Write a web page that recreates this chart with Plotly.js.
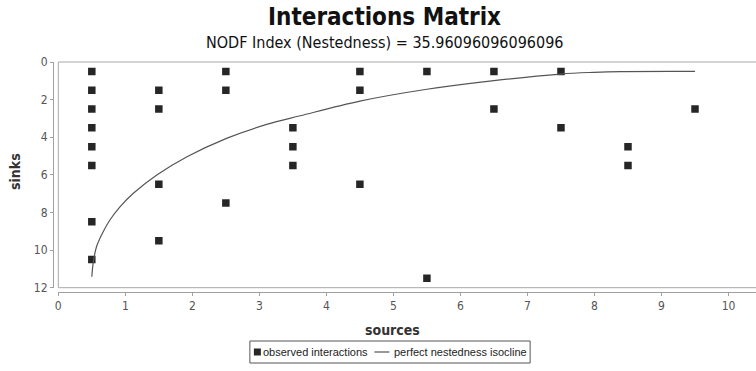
<!DOCTYPE html>
<html>
<head>
<meta charset="utf-8">
<script src="https://cdn.plot.ly/plotly-3.0.1.min.js"></script>
<style>html,body{margin:0;padding:0;background:#fff;overflow:hidden;}</style>
</head>
<body>
<div id="chart" style="width:756px;height:371px;"></div>
<script>
// Observed interactions (source column, sink row)
const obsSources = [0.5,0.5,0.5,0.5,0.5,0.5,0.5,0.5, 1.5,1.5,1.5,1.5, 2.5,2.5,2.5, 3.5,3.5,3.5, 4.5,4.5,4.5, 5.5,5.5, 6.5,6.5, 7.5,7.5, 8.5,8.5, 9.5];
const obsSinks   = [0.5,1.5,2.5,3.5,4.5,5.5,8.5,10.5, 1.5,2.5,6.5,9.5, 0.5,1.5,7.5, 3.5,4.5,5.5, 0.5,1.5,6.5, 0.5,11.5, 0.5,2.5, 0.5,3.5, 4.5,5.5, 2.5];

// Perfect nestedness isocline
const isoX = [0.50, 0.52, 0.57, 0.67, 0.77, 0.92, 1.12, 1.47, 1.92, 2.51, 3.11, 3.61, 4.50, 5.50, 6.50, 7.49, 7.99, 8.39, 9.50];
const isoY = [11.42,10.71,9.82, 9.02, 8.40, 7.70, 6.98, 6.01, 5.04, 4.06, 3.32, 2.86, 2.08, 1.45, 0.99, 0.64, 0.55, 0.51, 0.50];

const xTicks = [0,1,2,3,4,5,6,7,8,9,10];
const yTicks = [0,2,4,6,8,10,12];

const titleText = "Interactions Matrix";
const subtitleText = "NODF Index (Nestedness) = 35.96096096096096";
const xTitle = "sources";
const yTitle = "sinks";
const obsName = "observed interactions";
const isoName = "perfect nestedness isocline";

const W = 756, H = 371;
const L = 53, R = 0, T = 62, B = 79;
const pw = W - L - R, ph = H - T - B;
const px = v => (v - L) / pw;
const py = v => (H - B - v) / ph;

const tickFont = {family: "DejaVu Sans Condensed, Liberation Sans Narrow, DejaVu Sans, sans-serif", size: 12, color: "#555"};
const boldFont = {family: "DejaVu Sans Condensed, DejaVu Sans, sans-serif", size: 14, color: "#333"};
const legFont = {family: "Liberation Sans, Arial, sans-serif", size: 11, color: "#222"};

// measure legend texts to build a compact legend frame
const cv = document.createElement("canvas").getContext("2d");
cv.font = legFont.size + "px 'Liberation Sans', Arial, sans-serif";
const w1 = cv.measureText(obsName).width;
const w2 = cv.measureText(isoName).width;
const padL = 4, sq = 7, gapA = 1, gapB = 8, lineW = 15, gapC = 4, padR = 4;
const lgW = padL + sq + gapA + w1 + gapB + lineW + gapC + w2 + padR;
const lgCx = 390;
const lgL = lgCx - lgW / 2, lgR = lgCx + lgW / 2, lgT = 341, lgB = 363, lgC = 352;
const t1x = lgL + padL + sq + gapA;
const l0 = t1x + w1 + gapB, l1 = l0 + lineW;
const t2x = l1 + gapC;

const traces = [
  {
    x: obsSources, y: obsSinks, type: "scatter", mode: "markers", name: obsName,
    marker: {symbol: "square", size: 7.5, color: "#262626", line: {width: 0}},
    hoverinfo: "skip", showlegend: false
  },
  {
    x: isoX, y: isoY, type: "scatter", mode: "lines", name: isoName,
    line: {color: "#555", width: 1.2, shape: "spline", smoothing: 1},
    hoverinfo: "skip", showlegend: false
  }
];

const layout = {
  width: W, height: H,
  margin: {l: L, r: R, t: T, b: B, pad: 0, autoexpand: false},
  paper_bgcolor: "#fff", plot_bgcolor: "#fff",
  showlegend: false,
  xaxis: {
    domain: [px(58.3), 1], range: [0, 10.41], anchor: "free", position: 0,
    tickvals: xTicks, ticktext: xTicks.map(String),
    showline: true, linecolor: "#a0a0a0", linewidth: 1,
    ticks: "outside", ticklen: 3, tickcolor: "#a0a0a0",
    showgrid: false, zeroline: false, tickfont: tickFont, automargin: false
  },
  yaxis: {
    domain: [py(287.7), 1], range: [12, 0], anchor: "free", position: 0,
    tickvals: yTicks, ticktext: yTicks.map(String),
    showline: true, linecolor: "#a0a0a0", linewidth: 1,
    ticks: "outside", ticklen: 3, tickcolor: "#a0a0a0",
    showgrid: false, zeroline: false, tickfont: tickFont, automargin: false
  },
  shapes: [
    {type: "rect", xref: "x domain", yref: "y domain", x0: 0, x1: 1.01, y0: 0, y1: 1,
     line: {color: "#a8a8a8", width: 1}, fillcolor: "rgba(0,0,0,0)", layer: "below"},
    // legend frame and symbols
    {type: "rect", xref: "paper", yref: "paper", x0: px(lgL), x1: px(lgR), y0: py(lgB), y1: py(lgT),
     line: {color: "#555", width: 1}, fillcolor: "#fff", layer: "below"},
    {type: "rect", xref: "paper", yref: "paper", x0: px(lgL + padL), x1: px(lgL + padL + sq), y0: py(lgC + 3.5), y1: py(lgC - 3.5),
     line: {width: 0}, fillcolor: "#262626"},
    {type: "line", xref: "paper", yref: "paper", x0: px(l0), x1: px(l1), y0: py(lgC), y1: py(lgC),
     line: {color: "#555", width: 1.2}}
  ],
  annotations: [
    {text: "<b>" + titleText + "</b>", xref: "paper", yref: "paper", x: px(384), y: py(17),
     xanchor: "center", yanchor: "middle", showarrow: false,
     font: {family: "DejaVu Sans Condensed, DejaVu Sans, sans-serif", size: 24, color: "#111"}},
    {text: subtitleText, xref: "paper", yref: "paper", x: px(384), y: py(42),
     xanchor: "center", yanchor: "middle", showarrow: false,
     font: {family: "DejaVu Sans Condensed, DejaVu Sans, sans-serif", size: 16, color: "#111"}},
    {text: "<b>" + xTitle + "</b>", xref: "paper", yref: "paper", x: px(392), y: py(330),
     xanchor: "center", yanchor: "middle", showarrow: false, font: boldFont},
    {text: "<b>" + yTitle + "</b>", xref: "paper", yref: "paper", x: px(15), y: py(172),
     xanchor: "center", yanchor: "middle", showarrow: false, textangle: -90, font: boldFont},
    {text: obsName, xref: "paper", yref: "paper", x: px(t1x), y: py(lgC),
     xanchor: "left", yanchor: "middle", showarrow: false, font: legFont, borderpad: 0},
    {text: isoName, xref: "paper", yref: "paper", x: px(t2x), y: py(lgC),
     xanchor: "left", yanchor: "middle", showarrow: false, font: legFont, borderpad: 0}
  ]
};

Plotly.newPlot("chart", traces, layout, {staticPlot: true, displayModeBar: false});
</script>
</body>
</html>
